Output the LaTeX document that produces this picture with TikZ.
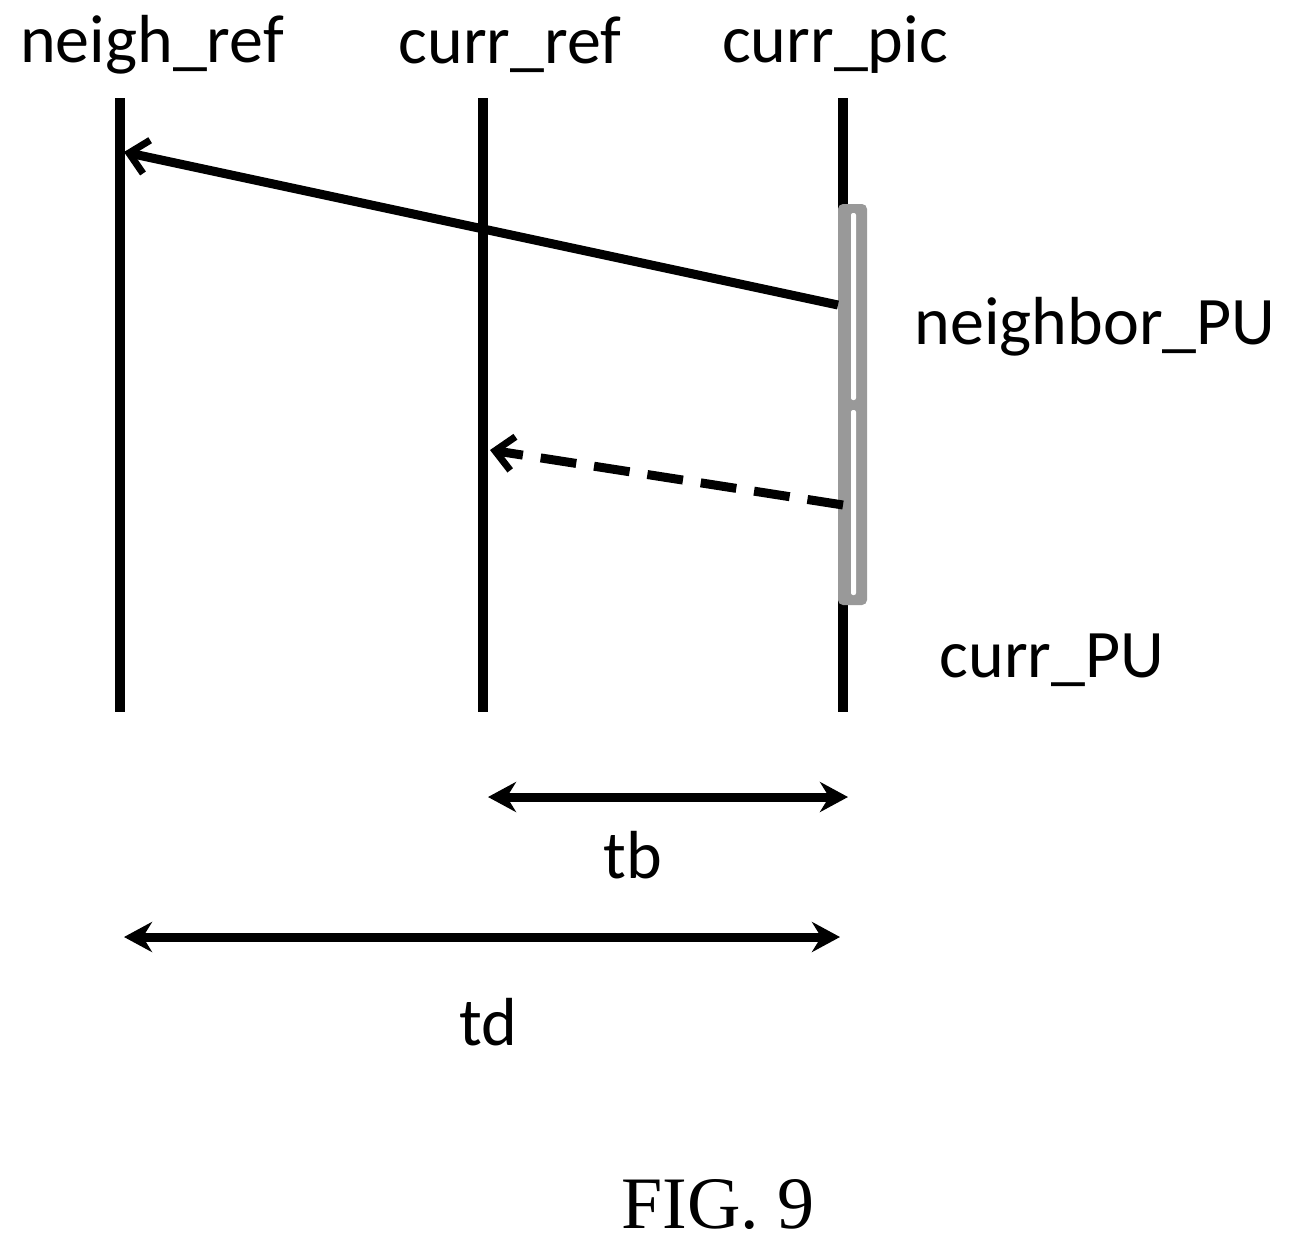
\documentclass[tikz,border=0pt]{standalone}
\usepackage{fontspec}
\setmainfont{Carlito}
\newfontfamily\figfont{Liberation Serif}
\usetikzlibrary{arrows.meta}
\begin{document}
\begin{tikzpicture}[x=1pt,y=-1pt,
  lbl/.style={font=\fontsize{68}{72}\selectfont, inner sep=0pt},
  axis/.style={line width=10pt},
  mv/.style={line width=9pt,-{Straight Barb[length=18pt,width=34pt,line width=7pt]}},
  dim/.style={line width=9pt,{Stealth[length=28pt,width=30pt]}-{Stealth[length=28pt,width=30pt]}}]
\useasboundingbox (0,0) rectangle (1297,1251);
\node[lbl] (t1) at (152,45) {neigh\_ref};
\node[lbl] (t2) at (510,45) {curr\_ref};
\node[lbl] (t3) at (835,45) {curr\_pic};
\coordinate (a1) at (120,98); \coordinate (a2) at (120,712);
\coordinate (b1) at (483,98); \coordinate (b2) at (483,712);
\coordinate (c1) at (843,98); \coordinate (c2) at (843,712);
\draw[axis] (a1) -- (a2);
\draw[axis] (b1) -- (b2);
\draw[axis] (c1) -- (c2);
% gray bar
\fill[gray!80, rounded corners=5pt] (838,204) rectangle (867,605);
\fill[white, rounded corners=2pt] (851,213) rectangle (856,400);
\fill[white, rounded corners=2pt] (851,410) rectangle (856,595);
\coordinate (s1) at (838,305); \coordinate (e1) at (124,152);
\draw[mv] (s1) -- (e1);
\coordinate (s2) at (843,505); \coordinate (e2) at (490,450);
\draw[mv, dash pattern=on 36pt off 18pt] (s2) -- (e2);
\node[lbl] (npu) at (1095,327) {neighbor\_PU};
\node[lbl] (cpu) at (1052,660) {curr\_PU};
\coordinate (tb1) at (488,797); \coordinate (tb2) at (848,797);
\draw[dim] (tb1) -- (tb2);
\node[lbl] (tb) at (633,855) {tb};
\coordinate (td1) at (124,937); \coordinate (td2) at (840,937);
\draw[dim] (td1) -- (td2);
\node[lbl] (td) at (488,1022) {td};
\node[font=\figfont\fontsize{74}{78}\selectfont, inner sep=0pt] (fig) at (718,1205) {FIG. 9};
\end{tikzpicture}
\end{document}
